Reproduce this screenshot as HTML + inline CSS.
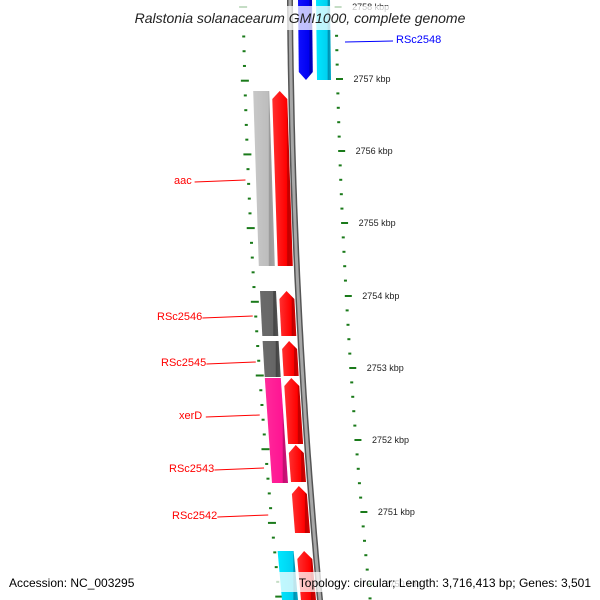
<!DOCTYPE html>
<html><head><meta charset="utf-8"><style>
body{margin:0;background:#fff;}
svg{display:block;font-family:"Liberation Sans","DejaVu Sans",sans-serif;}
</style></head><body>
<svg id="map" width="600" height="600" viewBox="0 0 600 600" xmlns="http://www.w3.org/2000/svg">
<defs>
<linearGradient id="gRed" x1="0" x2="1" y1="0" y2="0"><stop offset="0" stop-color="#ff3030"/><stop offset="0.7" stop-color="#ff0000"/><stop offset="0.75" stop-color="#c00000"/><stop offset="1" stop-color="#d80000"/></linearGradient>
<linearGradient id="gGray" x1="0" x2="1"><stop offset="0" stop-color="#c8c8c8"/><stop offset="0.7" stop-color="#bdbdbd"/><stop offset="0.75" stop-color="#999"/><stop offset="1" stop-color="#a5a5a5"/></linearGradient>
<linearGradient id="gDark" x1="0" x2="1"><stop offset="0" stop-color="#6a6a6a"/><stop offset="0.7" stop-color="#666"/><stop offset="0.75" stop-color="#444"/><stop offset="1" stop-color="#555"/></linearGradient>
<linearGradient id="gMag" x1="0" x2="1"><stop offset="0" stop-color="#ff2a9a"/><stop offset="0.75" stop-color="#ff1493"/><stop offset="0.8" stop-color="#c0106e"/><stop offset="1" stop-color="#d01080"/></linearGradient>
<linearGradient id="gBlue" x1="0" x2="1"><stop offset="0" stop-color="#1010ff"/><stop offset="0.75" stop-color="#0000f0"/><stop offset="0.8" stop-color="#0000b0"/><stop offset="1" stop-color="#0000c8"/></linearGradient>
<linearGradient id="gCyan" x1="0" x2="1"><stop offset="0" stop-color="#00e8ff"/><stop offset="0.75" stop-color="#00d0f0"/><stop offset="0.8" stop-color="#0090b0"/><stop offset="1" stop-color="#00a8c8"/></linearGradient>
</defs>
<g id="ticks"></g>
<g id="genes"></g>
<g id="labels"></g>
<rect x="110" y="6" width="380" height="24" fill="#fff" fill-opacity="0.75"/>
<text x="300" y="23" text-anchor="middle" font-size="14" font-style="italic" fill="#222">Ralstonia solanacearum GMI1000, complete genome</text>
<text x="9" y="587" font-size="12" fill="#000">Accession: NC_003295</text>
<rect x="260" y="572" width="334" height="20" fill="#fff" fill-opacity="0.75"/>
<text x="591" y="587" text-anchor="end" font-size="12" fill="#000">Topology: circular; Length: 3,716,413 bp; Genes: 3,501</text>
</svg>
<script>
const NS="http://www.w3.org/2000/svg";
// data
const kbpTicks=[2758,2757,2756,2755,2754,2753,2752,2751,2750];
const kbpTickY=[7,79,151,223,296,368,440,512,584];
const geneNames=["RSc2548","RSc2548b","aac","aac-cds","RSc2546","RSc2546-cds","RSc2545","RSc2545-cds","xerD","xerD-cds","RSc2543","RSc2542","next-a","next-b"];
const geneStart=[0,0,91,91,291,291,341,341,378,378,445,486,551,551];
const geneEnd=[80,80,266,266,336,336,377,376,483,444,482,533,600,600];
const geneLane=[1,2,-2,-1,-2,-1,-2,-1,-2,-1,-1,-1,-2,-1];
const geneDir=[1,0,0,-1,0,-1,0,-1,0,-1,-1,-1,0,-1];
const geneFill=["gBlue","gCyan","gGray","gRed","gDark","gRed","gDark","gRed","gMag","gRed","gRed","gRed","gCyan","gRed"];
const labelText=["aac","RSc2546","RSc2545","xerD","RSc2543","RSc2542"];
const labelY=[180,316,362,415,468,515];
const labelX=[174,157,161,179,169,172];

function c(y){return 290+0.00623*y+7.295e-5*y*y;}
const laneX={"-2":[-38,-22],"-1":[-19,-4],"1":[8,22],"2":[26,40]};
function mk(tag,attrs,parent){const e=document.createElementNS(NS,tag);for(const k in attrs)e.setAttribute(k,attrs[k]);parent.appendChild(e);return e;}

const genesG=document.getElementById('genes');
// backbone
let bp="";for(let y=-5;y<=605;y+=10)bp+=(y<0?"M":"L")+c(y).toFixed(1)+","+y+" ";
const bb1=mk('path',{d:bp,stroke:"#555",'stroke-width':6,fill:"none"},genesG);


const bb2=mk('path',{d:bp,stroke:"#a8a8a8",'stroke-width':3,fill:"none"},genesG);



for(let i=0;i<geneNames.length;i++){
  const s=geneStart[i],e=geneEnd[i],[a,b]=laneX[geneLane[i]];
  const m=(a+b)/2,h=8;
  let pts=[];
  if(geneDir[i]===-1){ // arrow up
    pts=[[c(s)+m,s],[c(s+h)+b,s+h],[c(e)+b,e],[c(e)+a,e],[c(s+h)+a,s+h]];
  }else if(geneDir[i]===1){ // arrow down
    pts=[[c(s)+a,s],[c(s)+b,s],[c(e-h)+b,e-h],[c(e)+m,e],[c(e-h)+a,e-h]];
  }else{
    pts=[[c(s)+a,s],[c(s)+b,s],[c(e)+b,e],[c(e)+a,e]];
  }
  const p=mk('polygon',{points:pts.map(q=>q[0].toFixed(1)+","+q[1]).join(" "),fill:"url(#"+geneFill[i]+")"},genesG);
  
  
}

const tg=document.getElementById('ticks');
// right ticks
const sp=(kbpTickY[1]-kbpTickY[0])/5;
for(let k=0;k<kbpTicks.length;k++){
  for(let j=0;j<5;j++){
    const y=kbpTickY[k]+j*sp; if(y>600)continue;
    const x=c(y)+44.5+0.007*y;
    const major=j===0;
    const t=mk('line',{x1:x,y1:y,x2:x+(major?7:3),y2:y,stroke:"#1a7a1a",'stroke-width':2},tg);
    
    
  }
  const y=kbpTickY[k];
  const lt=mk('text',{x:c(y)+62+0.007*y,y:y+3,'font-size':9,fill:"#222"},tg);
  lt.textContent=kbpTicks[k]+" kbp";
  
  
}
// left ticks
const lsp=73.7/5;
for(let n=0;n<42;n++){
  const y=7+n*lsp; if(y>600)break;
  const major=(n%5)===0;
  const x=c(y)-47+0.011*y;
  const t=mk('line',{x1:x-(major?4:1.5),y1:y,x2:x+(major?4:1.5),y2:y,stroke:"#1a7a1a",'stroke-width':2},tg);
  
  
}

const lg=document.getElementById('labels');
for(let i=0;i<labelText.length;i++){
  const y=labelY[i];
  const t=mk('text',{x:labelX[i],y:y+4,'font-size':11,fill:"#ff0000"},lg);
  t.textContent=labelText[i];
  
  
  const w=labelText[i].length*6.2;
  const l=mk('line',{x1:labelX[i]+w+2,y1:y+2,x2:c(y)-50+0.011*y,y2:y,stroke:"#ff0000",'stroke-width':1},lg);
  
  
}
const bl=mk('text',{x:396,y:43,'font-size':11,fill:"#0000ff"},lg);
bl.textContent="RSc2548";


const bll=mk('line',{x1:345,y1:42,x2:393,y2:41,stroke:"#0000ff",'stroke-width':1},lg);


</script>
</body></html>
